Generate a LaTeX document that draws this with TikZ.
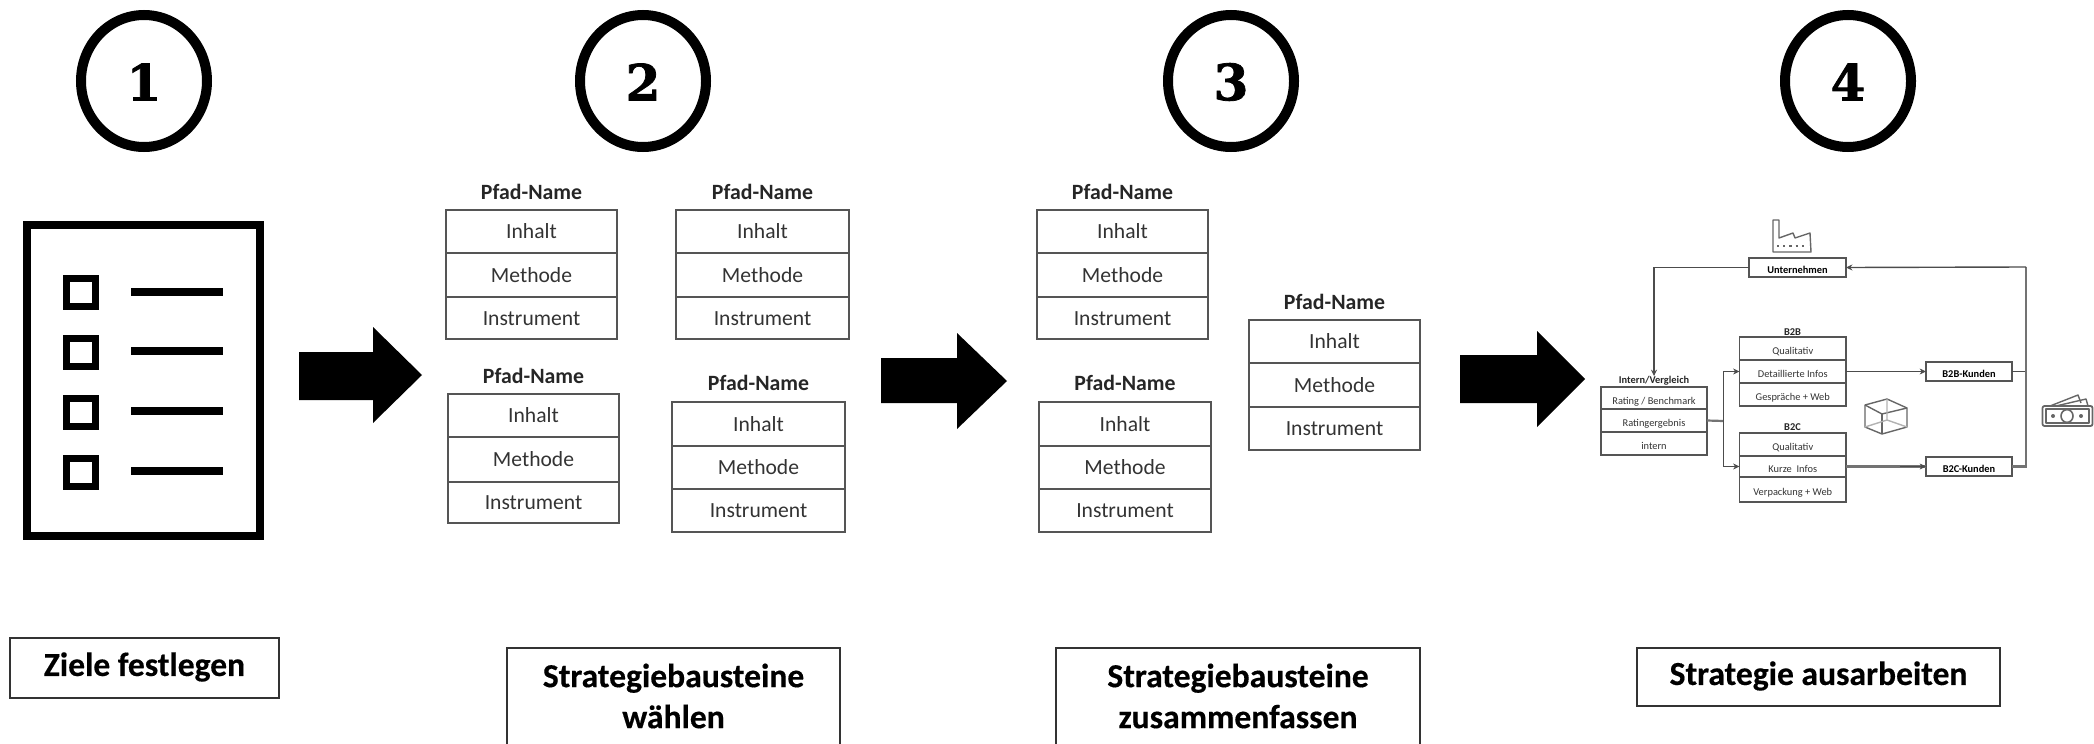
\documentclass[tikz,border=0pt]{standalone}
\usepackage{fontspec}
\setmainfont{Carlito}
\newfontfamily\slabfont[FakeBold=1.5]{DejaVu Serif}
\newfontfamily\capfont[FakeBold=.4]{Carlito}
\usetikzlibrary{arrows.meta}
\definecolor{tline}{HTML}{555555}
\definecolor{ttext}{HTML}{333333}
\definecolor{icon}{HTML}{666666}
\tikzset{
  rowcell/.style={draw=tline,line width=.8pt,inner sep=0pt,outer sep=0pt,text=ttext,font=\fontsize{10.8}{12}\selectfont,text height=.79em,text depth=.05em},
  smallcell/.style={draw=tline,line width=.7pt,inner sep=0pt,outer sep=0pt,text=ttext,font=\fontsize{5.2}{6}\selectfont,text height=.65em,text depth=.05em},
  smallbold/.style={smallcell,font=\fontsize{5.2}{6}\bfseries\selectfont,text=black},
  tabletitle/.style={inner sep=0pt,font=\fontsize{10.9}{12}\bfseries\selectfont,text=black!85},
  smalltitle/.style={inner sep=0pt,font=\fontsize{5.2}{6}\bfseries\selectfont,text=black!85},
  stepnum/.style={inner sep=0pt,font=\fontsize{25}{30}\slabfont\bfseries\selectfont},
  bigarrow/.style={fill=black,draw=none},
  capbox/.style={inner sep=0pt,outer sep=0pt,align=center,font=\fontsize{16.8}{20.5}\capfont\bfseries\selectfont},
  capline/.style={draw=black!80,line width=.8pt},
  capsingle/.style={capbox,capline},
  flow/.style={draw=black!70,line width=.7pt,-{Stealth[length=3.2pt,width=3pt]}},
  flowplain/.style={draw=black!70,line width=.7pt},
  flowthick/.style={draw=black!55,line width=1.1pt},
  iconline/.style={draw=icon,line width=.7pt,line join=round},
  checkmark/.style={draw=black,line width=3.6pt},
  checkline/.style={draw=black,line width=3.8pt},
}
\newcommand{\rowbox}[7]{%
  \pgfmathsetmacro\rw{(#4-#3)*0.5}\pgfmathsetmacro\rh{(#6-#5)*0.5}%
  \node[#2,minimum width=\rw pt,minimum height=\rh pt] (#1) at ({(#3+#4)/2},{(#5+#6)/2}) {#7};}
\newcommand{\pfad}[8]{%
  \node[tabletitle] (#1-t) at ({(#2+#3)/2},#4) {Pfad-Name};
  \rowbox{#1-a}{rowcell}{#2}{#3}{#5}{#6}{Inhalt}
  \rowbox{#1-b}{rowcell}{#2}{#3}{#6}{#7}{Methode}
  \rowbox{#1-c}{rowcell}{#2}{#3}{#7}{#8}{Instrument}}
\newcommand{\stepmark}[3]{%
  \draw[line width=5pt] (#2,81) ellipse [x radius=31.5pt,y radius=33pt];
  \node[stepnum] (#1) at (#2,82) {#3};}
\newcommand{\bigarr}[7]{%
  \fill[bigarrow] (#1,#3) -- (#2,#3) -- (#2,#5) -- (#6,#7) -- (#2,#7+#7-#5) -- (#2,#4) -- (#1,#4) -- cycle;}
\begin{document}
\begin{tikzpicture}[x=.5pt,y=-.5pt]
\useasboundingbox (0,0) rectangle (2094,744);
% step marks
\stepmark{n1}{144}{1}
\stepmark{n2}{643}{2}
\stepmark{n3}{1231}{3}
\stepmark{n4}{1848}{4}
% checklist
\draw[line width=3.7pt] (27,225) rectangle (260,536);
\foreach \y/\ly in {275/292,335/351,395/411,455/471}{
  \draw[checkmark] (66.5,\y+3.5) rectangle (95.5,\y+31.5);
  \draw[checkline] (131,\ly) -- (223,\ly);
}
% block arrows
\bigarr{299}{373}{352}{400}{327}{422}{375}
\bigarr{881}{957}{358}{403}{333}{1007}{381}
\bigarr{1460}{1537}{355}{403}{331}{1585}{379}
% stage 2
\pfad{p1}{446}{617}{192}{210}{253}{297}{339}
\pfad{p2}{676}{849}{192}{210}{253}{297}{339}
\pfad{p3}{448}{619}{376}{394}{437}{482}{523}
\pfad{p4}{672}{845}{383}{402}{446}{489}{532}
% stage 3
\pfad{p5}{1037}{1208}{192}{210}{253}{297}{339}
\pfad{p6}{1039}{1211}{383}{402}{446}{489}{532}
\pfad{p7}{1249}{1420}{302}{320}{363}{407}{450}
% captions
\rowbox{c1}{capsingle,draw}{10}{279}{638}{698}{}
\node[capbox] (c1t) at (144.5,667) {Ziele festlegen};
\rowbox{c2}{capbox}{507}{840}{648}{744}{}
\draw[capline] (c2.south west) -- (c2.north west) -- (c2.north east) -- (c2.south east);
\node[capbox] (c2t) at (673.5,696) {Strategiebausteine\\wählen};
\rowbox{c3}{capbox}{1056}{1420}{648}{744}{}
\draw[capline] (c3.south west) -- (c3.north west) -- (c3.north east) -- (c3.south east);
\node[capbox] (c3t) at (1238,696) {Strategiebausteine\\zusammenfassen};
\rowbox{c4}{capsingle,draw}{1637}{2000}{648}{706}{}
\node[capbox] (c4t) at (1818.5,676) {Strategie ausarbeiten};
% small diagram
\rowbox{u}{smallbold}{1749}{1846}{258}{277}{Unternehmen}
\node[smalltitle] (it) at (1654,381) {Intern/Vergleich};
\rowbox{i1}{smallcell}{1601}{1707}{387}{409}{Rating / Benchmark}
\rowbox{i2}{smallcell}{1601}{1707}{409}{432}{Ratingergebnis}
\rowbox{i3}{smallcell}{1601}{1707}{432}{455}{intern}
\node[smalltitle] (bt) at (1792.5,332) {B2B};
\rowbox{b1}{smallcell}{1739.5}{1846}{337}{360}{Qualitativ}
\rowbox{b2}{smallcell}{1739.5}{1846}{360}{383}{Detaillierte Infos}
\rowbox{b3}{smallcell}{1739.5}{1846}{383}{406}{Gespräche + Web}
\node[smalltitle] (ct) at (1792.5,427) {B2C};
\rowbox{d1}{smallcell}{1739.5}{1846}{433}{456}{Qualitativ}
\rowbox{d2}{smallcell}{1739.5}{1846}{456}{477}{Kurze\ \ Infos}
\rowbox{d3}{smallcell}{1739.5}{1846}{477}{502}{Verpackung + Web}
\rowbox{bk}{smallbold}{1926}{2012}{362}{381}{B2B-Kunden}
\rowbox{ck}{smallbold}{1926}{2012}{457}{476}{B2C-Kunden}
\coordinate (split) at (1723.5,421);
\coordinate (rail) at (2026,267);
\coordinate (cktail) at (1900,466.5);
\draw[flow] (u.west) -| (it.north);
\draw[flowthick] (i2.east) -- (split);
\draw[flow] (split) |- (b2.west);
\draw[flow] (split) |- (d2.west);
\draw[flow] (b2.east) -- (bk.west);
\draw[flowthick] (d2.east) -- (ck.west);
\draw[flow] (cktail) -- (ck.west);
\draw[flowplain] (bk.east) -- (2026,371.5);
\draw[flowthick] (ck.east) -| (rail);
\draw[flow] (rail) -- (u.east);
% factory icon
\draw[iconline] (1773,252) -- (1773,220) -- (1779,220) -- (1779,238) -- (1793,233) -- (1795,238) -- (1810,233) -- (1811,252) -- cycle;
\draw[iconline,line width=1.1pt,dotted] (1777,246) -- (1807,246);
% cube icon
\draw[iconline] (1865,405) -- (1887,399) -- (1907,408) -- (1907,427) -- (1882,434) -- (1865,427) -- cycle;
\draw[iconline] (1865,405) -- (1882,414) -- (1907,408);
\draw[iconline] (1882,414) -- (1882,434);
\draw[iconline,draw=icon!50] (1887,399) -- (1887,420) -- (1865,427);
\draw[iconline,draw=icon!50] (1887,420) -- (1907,427);
% money icon
\draw[iconline,line width=.9pt,rounded corners=1pt] (2042.5,406) rectangle (2092.5,426);
\draw[iconline] (2046,409) rectangle (2089,423);
\draw[iconline,line width=.8pt] (2067,416) ellipse [x radius=3pt,y radius=3.2pt];
\fill[icon] (2053,416) circle (1pt);
\fill[icon] (2081,416) circle (1pt);
\draw[iconline] (2050,406) -- (2078,395) -- (2081,403);
\draw[iconline] (2056,406) -- (2086,399) -- (2088,406);
\end{tikzpicture}
\end{document}
